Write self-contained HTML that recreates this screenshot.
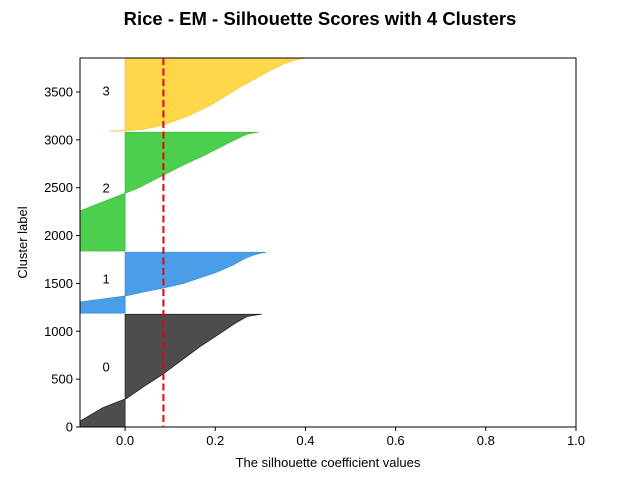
<!DOCTYPE html>
<html><head><meta charset="utf-8"><style>body{margin:0;background:#fff}svg{display:block;font-family:"Liberation Sans","DejaVu Sans",sans-serif}</style></head>
<body>
<svg id="chart" width="640" height="480" viewBox="0 0 640 480">
<text x="320" y="25" text-anchor="middle" font-size="18.5" font-weight="bold">Rice - EM - Silhouette Scores with 4 Clusters</text>
<defs><clipPath id="pc"><rect x="80" y="58" width="496" height="369"/></clipPath></defs>
<g id="marks" clip-path="url(#pc)"></g>
<g id="axes"></g>
</svg>
<script>
const clusterLabels = ["0","1","2","3"];
const clusterColors = ["#4d4d4d","#4a9ee8","#4ccf4c","#ffd84a"];
const edgeColors = ["#222222","#3a8ee0","#3cc03c","#f5c83a"];
const c0Rank = [0,60,200,300,421,543,700,839,979,1084,1153,1172,1178];
const c0Score = [-0.12,-0.1,-0.05,0.004,0.041,0.081,0.126,0.166,0.211,0.244,0.27,0.292,0.303];
const c1Rank = [1190,1306,1369,1400,1452,1500,1557,1620,1693,1760,1797,1815,1826];
const c1Score = [-0.12,-0.1,0,0.03,0.085,0.13,0.165,0.205,0.24,0.265,0.285,0.30,0.313];
const c2Rank = [1839,2257,2442,2500,2633,2740,2842,2981,3060,3079];
const c2Score = [-0.2,-0.1,0,0.03,0.085,0.13,0.177,0.235,0.27,0.295];
const c3Rank = [3092,3097,3110,3155,3250,3364,3450,3539,3630,3712,3790,3835,3855];
const c3Score = [-0.036,0,0.04,0.085,0.14,0.19,0.22,0.25,0.285,0.317,0.35,0.377,0.40];
const meanScore = 0.085;
const xTicks = [0,0.2,0.4,0.6,0.8,1.0];
const xTickLabels = ["0.0","0.2","0.4","0.6","0.8","1.0"];
const yTicks = [0,500,1000,1500,2000,2500,3000,3500];
const xMin=-0.1,xMax=1.0,yMin=0,yMax=3855;
const L=80,R=576,T=58,B=427;
const X=v=>L+(v-xMin)/(xMax-xMin)*(R-L);
const Y=v=>B-(v-yMin)/(yMax-yMin)*(B-T);
const NS="http://www.w3.org/2000/svg";
function mk(tag,attrs,parent,text){const e=document.createElementNS(NS,tag);for(const k in attrs)e.setAttribute(k,attrs[k]);if(text!==undefined)e.textContent=text;parent.appendChild(e);return e;}
const marks=document.getElementById('marks'),axes=document.getElementById('axes'),svg=document.getElementById('chart');
const ranks=[c0Rank,c1Rank,c2Rank,c3Rank],scores=[c0Score,c1Score,c2Score,c3Score];
for(let i=0;i<4;i++){
  const r=ranks[i],s=scores[i];
  let pts=[[X(0),Y(r[0])]];
  for(let j=0;j<r.length;j++)pts.push([X(s[j]),Y(r[j])]);
  pts.push([X(0),Y(r[r.length-1])]);
  const p=mk('polygon',{points:pts.map(q=>q.join(',')).join(' '),fill:clusterColors[i],stroke:edgeColors[i],'stroke-width':0.8},marks);
  
  
  const mid=(r[0]+r[r.length-1])/2;
  const t=mk('text',{x:X(-0.05),y:Y(mid)+1,'text-anchor':'start','font-size':13},svg,clusterLabels[i]);
  
  
}
const ml=mk('line',{x1:X(meanScore),x2:X(meanScore),y1:T,y2:B,stroke:'#e8000b','stroke-width':2,'stroke-dasharray':'7,3.5'},svg);


const fr=mk('rect',{x:L,y:T,width:R-L,height:B-T,fill:'none',stroke:'#000','stroke-width':1},axes);


xTicks.forEach((v,i)=>{
  mk('line',{x1:X(v),x2:X(v),y1:B,y2:B+4,stroke:'#000'},axes);
  const t=mk('text',{x:X(v),y:B+18,'text-anchor':'middle','font-size':13},axes,xTickLabels[i]);
  
  
});
yTicks.forEach(v=>{
  mk('line',{x1:L-4,x2:L,y1:Y(v),y2:Y(v),stroke:'#000'},axes);
  const t=mk('text',{x:L-7,y:Y(v)+4.5,'text-anchor':'end','font-size':13},axes,String(v));
  
  
});
const xt=mk('text',{x:(L+R)/2,y:467,'text-anchor':'middle','font-size':13},axes,'The silhouette coefficient values');


const yt=mk('text',{x:0,y:0,'text-anchor':'middle','font-size':13,transform:'translate(27,'+((T+B)/2)+') rotate(-90)'},axes,'Cluster label');


</script>
</body></html>
